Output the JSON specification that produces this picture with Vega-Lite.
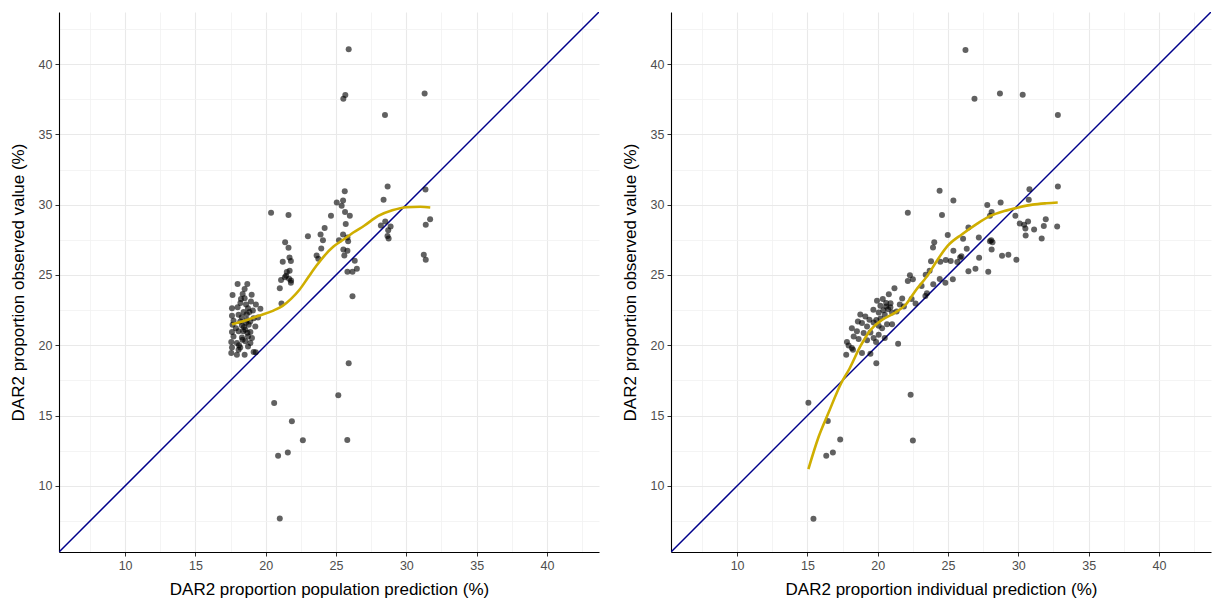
{
  "$schema": "https://vega.github.io/schema/vega-lite/v6.json",
  "background": "white",
  "padding": {"left": 9, "top": 9, "right": 0, "bottom": 0},
  "spacing": 19,
  "config": {
    "view": {"stroke": null},
    "font": "Liberation Sans",
    "axis": {
      "domainColor": "#000000",
      "domainWidth": 1.1,
      "tickColor": "#333333",
      "tickSize": 4,
      "tickWidth": 1,
      "labelColor": "#4d4d4d",
      "labelFontSize": 12.5,
      "labelPadding": 3,
      "titleFontSize": 17,
      "titleFontWeight": "normal",
      "titleColor": "#000000",
      "gridColor": "#e9e9e9",
      "gridWidth": 1.1
    },
    "axisX": {"titlePadding": 10},
    "axisY": {"titlePadding": 11}
  },
  "datasets": {
    "diag": [{"p": 5.3, "o": 5.3}, {"p": 43.7, "o": 43.7}],
    "pop": [
      {"p": 25.9, "o": 41.06}, {"p": 25.66, "o": 37.8}, {"p": 25.52, "o": 37.54}, {"p": 31.3, "o": 37.9}, {"p": 28.48, "o": 36.37},
      {"p": 20.6, "o": 15.9}, {"p": 25.16, "o": 16.45}, {"p": 21.86, "o": 14.6}, {"p": 22.64, "o": 13.25}, {"p": 25.8, "o": 13.27},
      {"p": 20.88, "o": 12.14}, {"p": 21.57, "o": 12.38}, {"p": 21.0, "o": 7.68}, {"p": 25.9, "o": 18.72},
      {"p": 25.62, "o": 30.96}, {"p": 28.67, "o": 31.3}, {"p": 25.05, "o": 30.16}, {"p": 25.5, "o": 30.3}, {"p": 25.4, "o": 29.93},
      {"p": 28.38, "o": 30.35}, {"p": 31.36, "o": 31.08}, {"p": 20.38, "o": 29.43}, {"p": 21.62, "o": 29.27}, {"p": 25.64, "o": 29.48},
      {"p": 25.98, "o": 29.22}, {"p": 24.64, "o": 29.22}, {"p": 25.69, "o": 28.63}, {"p": 24.19, "o": 28.34}, {"p": 28.19, "o": 28.51},
      {"p": 28.5, "o": 28.8}, {"p": 28.88, "o": 28.44}, {"p": 28.71, "o": 28.18}, {"p": 28.66, "o": 27.78}, {"p": 28.74, "o": 27.59},
      {"p": 31.69, "o": 28.96}, {"p": 31.38, "o": 28.58}, {"p": 31.24, "o": 26.43}, {"p": 31.38, "o": 26.08}, {"p": 23.0, "o": 27.76},
      {"p": 23.9, "o": 27.88}, {"p": 24.07, "o": 27.47}, {"p": 23.95, "o": 26.89}, {"p": 23.62, "o": 26.39}, {"p": 23.74, "o": 26.15},
      {"p": 21.38, "o": 27.33}, {"p": 21.62, "o": 26.93}, {"p": 21.21, "o": 25.94}, {"p": 21.69, "o": 26.25}, {"p": 21.79, "o": 25.99},
      {"p": 21.5, "o": 25.21}, {"p": 21.36, "o": 24.83}, {"p": 21.09, "o": 24.64}, {"p": 21.66, "o": 24.73}, {"p": 21.79, "o": 24.45},
      {"p": 21.45, "o": 24.95}, {"p": 21.0, "o": 24.05}, {"p": 21.12, "o": 22.97}, {"p": 25.21, "o": 27.47}, {"p": 25.5, "o": 27.88},
      {"p": 25.81, "o": 27.66}, {"p": 25.86, "o": 27.4}, {"p": 25.52, "o": 26.82}, {"p": 25.81, "o": 26.72}, {"p": 25.59, "o": 26.39},
      {"p": 26.33, "o": 26.01}, {"p": 25.81, "o": 25.23}, {"p": 26.17, "o": 25.23}, {"p": 26.48, "o": 25.44}, {"p": 26.17, "o": 23.49},
      {"p": 19.29, "o": 19.5}, {"p": 21.7, "o": 25.3}, {"p": 21.8, "o": 24.6},
      {"p": 18.0, "o": 24.36}, {"p": 18.69, "o": 24.36}, {"p": 17.64, "o": 23.58}, {"p": 18.36, "o": 23.65}, {"p": 18.24, "o": 23.3},
      {"p": 18.5, "o": 23.35}, {"p": 18.95, "o": 23.11}, {"p": 17.6, "o": 22.64}, {"p": 18.0, "o": 22.71}, {"p": 18.74, "o": 22.64},
      {"p": 19.62, "o": 22.59}, {"p": 17.6, "o": 22.1}, {"p": 18.07, "o": 22.17}, {"p": 18.43, "o": 22.36}, {"p": 18.84, "o": 22.36},
      {"p": 19.09, "o": 22.47}, {"p": 17.71, "o": 21.74}, {"p": 18.19, "o": 21.69}, {"p": 18.66, "o": 21.81}, {"p": 19.14, "o": 21.93},
      {"p": 19.45, "o": 21.98}, {"p": 17.64, "o": 21.46}, {"p": 17.88, "o": 21.22}, {"p": 18.31, "o": 21.41}, {"p": 18.79, "o": 21.46},
      {"p": 19.26, "o": 21.34}, {"p": 17.6, "o": 20.94}, {"p": 18.07, "o": 20.99}, {"p": 18.55, "o": 21.11}, {"p": 18.91, "o": 20.94},
      {"p": 17.71, "o": 20.63}, {"p": 18.31, "o": 20.56}, {"p": 18.74, "o": 20.63}, {"p": 19.02, "o": 20.52}, {"p": 17.55, "o": 20.23},
      {"p": 17.95, "o": 20.16}, {"p": 18.55, "o": 20.28}, {"p": 18.91, "o": 20.16}, {"p": 17.6, "o": 19.85}, {"p": 18.19, "o": 19.85},
      {"p": 18.74, "o": 19.92}, {"p": 17.55, "o": 19.46}, {"p": 17.95, "o": 19.33}, {"p": 18.5, "o": 19.33}, {"p": 19.14, "o": 19.53},
      {"p": 18.07, "o": 19.69}, {"p": 18.3, "o": 22.0}, {"p": 18.6, "o": 21.6}, {"p": 18.45, "o": 21.3}, {"p": 18.7, "o": 20.9},
      {"p": 18.35, "o": 20.4}, {"p": 18.6, "o": 22.9}, {"p": 18.2, "o": 23.0}, {"p": 18.9, "o": 21.7}, {"p": 18.4, "o": 21.0},
      {"p": 18.65, "o": 22.2}, {"p": 19.3, "o": 22.9}, {"p": 18.1, "o": 20.0}, {"p": 19.0, "o": 23.6}, {"p": 18.5, "o": 24.0}
    ],
    "ind": [
      {"p": 26.24, "o": 40.99}, {"p": 26.88, "o": 37.54}, {"p": 28.69, "o": 37.9}, {"p": 30.31, "o": 37.81}, {"p": 32.81, "o": 36.37},
      {"p": 15.07, "o": 15.92}, {"p": 16.45, "o": 14.61}, {"p": 17.33, "o": 13.3}, {"p": 16.81, "o": 12.38}, {"p": 16.34, "o": 12.14},
      {"p": 15.43, "o": 7.66}, {"p": 22.34, "o": 16.48}, {"p": 22.5, "o": 13.23}, {"p": 19.9, "o": 18.72},
      {"p": 24.4, "o": 30.99}, {"p": 25.38, "o": 30.3}, {"p": 22.14, "o": 29.43}, {"p": 24.57, "o": 29.27}, {"p": 27.79, "o": 29.98},
      {"p": 28.74, "o": 30.16}, {"p": 28.1, "o": 29.48}, {"p": 27.98, "o": 29.22}, {"p": 30.79, "o": 31.1}, {"p": 32.81, "o": 31.3},
      {"p": 30.74, "o": 30.35}, {"p": 29.79, "o": 29.22}, {"p": 30.1, "o": 28.66}, {"p": 30.41, "o": 28.58}, {"p": 30.69, "o": 28.8},
      {"p": 30.5, "o": 28.3}, {"p": 31.12, "o": 28.23}, {"p": 31.95, "o": 28.96}, {"p": 31.81, "o": 28.49}, {"p": 32.76, "o": 28.44},
      {"p": 30.52, "o": 27.81}, {"p": 31.66, "o": 27.59}, {"p": 24.98, "o": 27.85}, {"p": 24.02, "o": 27.33}, {"p": 23.93, "o": 26.96},
      {"p": 26.45, "o": 28.37}, {"p": 26.07, "o": 27.57}, {"p": 25.38, "o": 26.72}, {"p": 27.19, "o": 27.66}, {"p": 28.07, "o": 27.47},
      {"p": 28.16, "o": 27.33}, {"p": 27.98, "o": 27.4}, {"p": 28.1, "o": 26.82}, {"p": 28.84, "o": 26.37}, {"p": 29.29, "o": 26.44},
      {"p": 29.86, "o": 26.08}, {"p": 26.33, "o": 26.87}, {"p": 25.95, "o": 26.34}, {"p": 25.86, "o": 26.25}, {"p": 27.21, "o": 26.22},
      {"p": 26.95, "o": 25.44}, {"p": 26.45, "o": 25.26}, {"p": 27.86, "o": 25.23}, {"p": 24.84, "o": 26.06}, {"p": 24.45, "o": 25.94},
      {"p": 25.19, "o": 25.99}, {"p": 23.79, "o": 25.97}, {"p": 25.66, "o": 25.92}, {"p": 25.34, "o": 24.69}, {"p": 24.81, "o": 24.45},
      {"p": 24.41, "o": 24.71}, {"p": 23.95, "o": 24.34}, {"p": 23.41, "o": 25.02}, {"p": 23.69, "o": 25.3}, {"p": 23.12, "o": 24.22},
      {"p": 23.39, "o": 23.51}, {"p": 23.5, "o": 23.7}, {"p": 22.29, "o": 24.98}, {"p": 22.5, "o": 24.69}, {"p": 22.14, "o": 24.57},
      {"p": 21.19, "o": 24.05}, {"p": 22.69, "o": 22.97}, {"p": 22.41, "o": 23.3}, {"p": 21.74, "o": 23.32}, {"p": 21.57, "o": 22.9},
      {"p": 21.86, "o": 22.75}, {"p": 20.79, "o": 23.63}, {"p": 20.36, "o": 23.3}, {"p": 19.95, "o": 23.16}, {"p": 20.91, "o": 22.99},
      {"p": 20.6, "o": 22.75}, {"p": 20.19, "o": 22.82}, {"p": 20.74, "o": 22.57}, {"p": 21.02, "o": 22.33}, {"p": 21.34, "o": 22.4},
      {"p": 19.69, "o": 22.52}, {"p": 20.07, "o": 22.33}, {"p": 20.5, "o": 22.17}, {"p": 18.76, "o": 22.19}, {"p": 19.12, "o": 22.05},
      {"p": 19.41, "o": 21.81}, {"p": 18.59, "o": 21.69}, {"p": 18.88, "o": 21.58}, {"p": 19.24, "o": 21.34}, {"p": 19.71, "o": 21.62},
      {"p": 20.07, "o": 21.39}, {"p": 20.31, "o": 21.22}, {"p": 20.66, "o": 21.5}, {"p": 21.02, "o": 21.5}, {"p": 18.16, "o": 21.22},
      {"p": 18.52, "o": 20.99}, {"p": 19.0, "o": 20.87}, {"p": 19.48, "o": 20.91}, {"p": 18.29, "o": 20.63}, {"p": 18.64, "o": 20.45},
      {"p": 19.24, "o": 20.35}, {"p": 19.71, "o": 20.52}, {"p": 20.07, "o": 20.75}, {"p": 20.5, "o": 20.52}, {"p": 19.88, "o": 20.23},
      {"p": 17.81, "o": 20.23}, {"p": 17.93, "o": 19.99}, {"p": 18.16, "o": 19.8}, {"p": 17.76, "o": 19.33}, {"p": 18.24, "o": 19.69},
      {"p": 18.88, "o": 19.45}, {"p": 19.48, "o": 19.4}, {"p": 21.45, "o": 20.11}, {"p": 20.6, "o": 23.0}, {"p": 20.9, "o": 22.7},
      {"p": 20.4, "o": 22.5}, {"p": 20.2, "o": 21.9}, {"p": 19.9, "o": 21.8}
    ],
    "popfit": [
      {"p": 17.6, "o": 21.5}, {"p": 18.5, "o": 21.75}, {"p": 19.5, "o": 22.1}, {"p": 20.5, "o": 22.45}, {"p": 21.2, "o": 22.8},
      {"p": 21.8, "o": 23.3}, {"p": 22.4, "o": 23.95}, {"p": 23.0, "o": 24.8}, {"p": 23.6, "o": 25.65}, {"p": 24.2, "o": 26.4},
      {"p": 24.8, "o": 27.0}, {"p": 25.5, "o": 27.5}, {"p": 26.2, "o": 28.0}, {"p": 27.0, "o": 28.5}, {"p": 28.0, "o": 29.2},
      {"p": 29.0, "o": 29.6}, {"p": 30.0, "o": 29.82}, {"p": 31.0, "o": 29.85}, {"p": 31.7, "o": 29.8}
    ],
    "indfit": [
      {"p": 15.07, "o": 11.2}, {"p": 15.8, "o": 13.5}, {"p": 16.5, "o": 15.2}, {"p": 17.4, "o": 17.3}, {"p": 18.0, "o": 18.35},
      {"p": 18.75, "o": 19.9}, {"p": 19.5, "o": 21.1}, {"p": 20.3, "o": 21.8}, {"p": 21.2, "o": 22.3}, {"p": 22.0, "o": 22.9},
      {"p": 22.7, "o": 23.9}, {"p": 23.5, "o": 24.9}, {"p": 24.2, "o": 26.0}, {"p": 25.0, "o": 27.1}, {"p": 26.0, "o": 27.9},
      {"p": 27.0, "o": 28.6}, {"p": 28.0, "o": 29.2}, {"p": 29.0, "o": 29.55}, {"p": 30.0, "o": 29.8}, {"p": 31.0, "o": 30.0},
      {"p": 32.0, "o": 30.1}, {"p": 32.8, "o": 30.15}
    ]
  },
  "hconcat": [
    {
      "width": 540,
      "height": 540,
      "resolve": {"axis": {"x": "independent", "y": "independent"}},
      "layer": [
        {
          "data": {"name": "diag"},
          "mark": {"type": "point", "opacity": 0},
          "encoding": {
            "x": {"field": "p", "type": "quantitative", "scale": {"domain": [5.3, 43.7], "nice": false, "zero": false},
                  "axis": {"orient": "bottom", "grid": true, "values": [7.5, 12.5, 17.5, 22.5, 27.5, 32.5, 37.5, 42.5], "labels": false, "ticks": false, "domain": false, "title": null, "gridColor": "#f1f1f1", "gridWidth": 0.8}},
            "y": {"field": "o", "type": "quantitative", "scale": {"domain": [5.3, 43.7], "nice": false, "zero": false},
                  "axis": {"orient": "left", "grid": true, "values": [7.5, 12.5, 17.5, 22.5, 27.5, 32.5, 37.5, 42.5], "labels": false, "ticks": false, "domain": false, "title": null, "gridColor": "#f1f1f1", "gridWidth": 0.8}}
          }
        },
        {
          "encoding": {
            "x": {"field": "p", "type": "quantitative", "scale": {"domain": [5.3, 43.7], "nice": false, "zero": false}, "title": "DAR2 proportion population prediction (%)",
                  "axis": {"orient": "bottom", "grid": true, "values": [10, 15, 20, 25, 30, 35, 40], "labelOverlap": false}},
            "y": {"field": "o", "type": "quantitative", "scale": {"domain": [5.3, 43.7], "nice": false, "zero": false}, "title": "DAR2 proportion observed value (%)",
                  "axis": {"orient": "left", "grid": true, "values": [10, 15, 20, 25, 30, 35, 40], "labelOverlap": false}}
          },
          "layer": [
            {"data": {"name": "diag"}, "mark": {"type": "line", "color": "#00008B", "strokeWidth": 1.5, "clip": true}},
            {"data": {"name": "pop"}, "mark": {"type": "circle", "color": "#000000", "opacity": 0.62, "size": 36}},
            {"data": {"name": "popfit"}, "mark": {"type": "line", "color": "#CFAE00", "strokeWidth": 2.6, "interpolate": "monotone"}}
          ]
        }
      ]
    },
    {
      "width": 540,
      "height": 540,
      "resolve": {"axis": {"x": "independent", "y": "independent"}},
      "layer": [
        {
          "data": {"name": "diag"},
          "mark": {"type": "point", "opacity": 0},
          "encoding": {
            "x": {"field": "p", "type": "quantitative", "scale": {"domain": [5.3, 43.7], "nice": false, "zero": false},
                  "axis": {"orient": "bottom", "grid": true, "values": [7.5, 12.5, 17.5, 22.5, 27.5, 32.5, 37.5, 42.5], "labels": false, "ticks": false, "domain": false, "title": null, "gridColor": "#f1f1f1", "gridWidth": 0.8}},
            "y": {"field": "o", "type": "quantitative", "scale": {"domain": [5.3, 43.7], "nice": false, "zero": false},
                  "axis": {"orient": "left", "grid": true, "values": [7.5, 12.5, 17.5, 22.5, 27.5, 32.5, 37.5, 42.5], "labels": false, "ticks": false, "domain": false, "title": null, "gridColor": "#f1f1f1", "gridWidth": 0.8}}
          }
        },
        {
          "encoding": {
            "x": {"field": "p", "type": "quantitative", "scale": {"domain": [5.3, 43.7], "nice": false, "zero": false}, "title": "DAR2 proportion individual prediction (%)",
                  "axis": {"orient": "bottom", "grid": true, "values": [10, 15, 20, 25, 30, 35, 40], "labelOverlap": false}},
            "y": {"field": "o", "type": "quantitative", "scale": {"domain": [5.3, 43.7], "nice": false, "zero": false}, "title": "DAR2 proportion observed value (%)",
                  "axis": {"orient": "left", "grid": true, "values": [10, 15, 20, 25, 30, 35, 40], "labelOverlap": false}}
          },
          "layer": [
            {"data": {"name": "diag"}, "mark": {"type": "line", "color": "#00008B", "strokeWidth": 1.5, "clip": true}},
            {"data": {"name": "ind"}, "mark": {"type": "circle", "color": "#000000", "opacity": 0.62, "size": 36}},
            {"data": {"name": "indfit"}, "mark": {"type": "line", "color": "#CFAE00", "strokeWidth": 2.6, "interpolate": "monotone"}}
          ]
        }
      ]
    }
  ]
}
